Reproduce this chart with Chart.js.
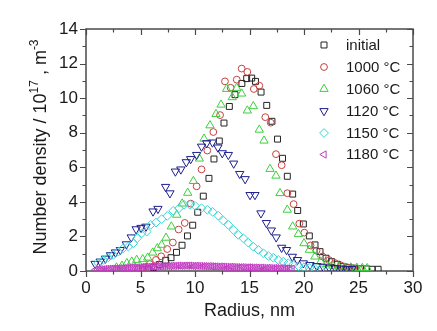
<!DOCTYPE html>
<html>
<head>
<meta charset="utf-8">
<script src="https://cdn.jsdelivr.net/npm/chart.js@4.4.1/dist/chart.umd.min.js"></script>
<style>
  html, body { margin: 0; padding: 0; background: #fff; }
  #wrap { width: 437px; height: 331px; }
</style>
</head>
<body>
<div id="wrap"><canvas id="c" width="437" height="331"></canvas></div>
<script>
// Particle size distributions: radius (nm) vs number density (10^17 m^-3)
const radiusInitial = [5.2, 5.7, 6.2, 6.72, 7.31, 7.8, 8.3, 8.81, 9.31, 9.79, 10.25, 10.76, 11.28, 11.74, 12.23, 12.66, 13.15, 13.67, 14.3, 14.74, 15.2, 15.55, 16.06, 16.58, 17.06, 17.57, 18.03, 18.47, 18.96, 19.42, 19.94, 20.49, 21.01, 21.47, 22.02, 22.54, 23.06, 23.61, 24.13, 24.68, 25.2, 25.75, 26.25, 26.8];
const densityInitial = [0.08, 0.12, 0.2, 0.37, 0.62, 0.77, 1.08, 1.49, 2.03, 2.65, 3.4, 4.33, 5.36, 6.48, 7.52, 8.56, 9.52, 10.2, 10.85, 11.13, 11.16, 10.97, 10.35, 9.58, 8.66, 7.63, 6.52, 5.48, 4.45, 3.5, 2.72, 2.03, 1.51, 1.12, 0.74, 0.54, 0.39, 0.25, 0.19, 0.16, 0.13, 0.12, 0.1, 0.1];

const radius1000 = [4.8, 5.3, 5.85, 6.42, 6.9, 7.45, 7.97, 8.5, 9.06, 9.6, 10.15, 10.6, 11.13, 11.68, 12.3, 12.75, 13.27, 13.83, 14.28, 14.8, 15.4, 15.9, 16.45, 16.95, 17.43, 17.95, 18.47, 19.05, 19.57, 20.03, 20.6, 21.15, 21.7, 22.3, 22.85, 23.4, 23.95, 24.5, 25.05];
const density1000 = [0.12, 0.22, 0.4, 0.64, 0.85, 1.27, 1.65, 2.4, 2.78, 3.9, 4.9, 5.88, 6.97, 8.04, 9.02, 10.97, 10.6, 11.07, 11.71, 11.52, 10.53, 10.72, 8.9, 8.58, 6.76, 6.12, 4.5, 3.87, 2.74, 2.22, 1.48, 1.18, 0.84, 0.63, 0.46, 0.32, 0.22, 0.16, 0.12];

const radius1060 = [2.8, 3.3, 3.75, 4.2, 4.65, 5.2, 5.66, 6.12, 6.54, 6.94, 7.34, 7.83, 8.32, 8.82, 9.33, 9.85, 10.4, 10.83, 11.38, 11.93, 12.39, 12.9, 13.42, 13.82, 14.28, 14.8, 15.35, 15.9, 16.33, 16.88, 17.43, 17.8, 18.47, 18.96, 19.48, 20.0, 20.49, 21.0, 21.53, 22.08, 22.65, 23.2, 23.75, 24.3, 24.85, 25.35, 25.8];
const density1060 = [0.2, 0.3, 0.45, 0.54, 0.64, 0.68, 0.77, 1.06, 1.31, 1.51, 1.92, 2.57, 3.25, 3.9, 4.52, 5.2, 6.5, 7.65, 8.42, 9.08, 9.62, 10.53, 10.05, 10.59, 10.26, 9.28, 9.53, 8.17, 7.54, 5.9, 5.51, 4.5, 3.54, 2.57, 2.14, 1.6, 1.22, 0.83, 0.54, 0.39, 0.3, 0.24, 0.2, 0.2, 0.18, 0.17, 0.16];

const radius1120 = [0.83, 1.3, 1.78, 2.25, 2.7, 3.15, 3.7, 4.15, 4.6, 5.05, 5.5, 6.15, 6.6, 7.3, 7.7, 8.2, 8.7, 9.2, 9.6, 10.15, 10.6, 11.07, 11.6, 12.1, 12.5, 13.06, 13.55, 14.1, 14.6, 15.05, 15.5, 16.05, 16.55, 17.0, 17.45, 17.95, 18.4, 18.93, 19.4, 19.94, 20.55, 21.17, 21.75, 22.3, 22.85, 23.4, 23.9, 24.4];
const density1120 = [0.42, 0.55, 0.72, 0.92, 1.08, 1.22, 1.55, 1.95, 2.42, 2.5, 2.57, 3.45, 3.6, 4.87, 4.5, 5.76, 5.88, 6.3, 6.48, 6.72, 7.2, 7.4, 7.44, 7.15, 6.82, 6.72, 6.22, 5.62, 5.32, 4.4, 4.4, 3.34, 2.78, 2.35, 1.95, 1.35, 1.22, 0.83, 0.64, 0.45, 0.35, 0.29, 0.25, 0.2, 0.18, 0.15, 0.13, 0.12];

const radius1150 = [1.13, 1.59, 2.05, 2.5, 2.97, 3.42, 3.88, 4.34, 4.7, 5.11, 5.57, 5.94, 6.42, 6.94, 7.46, 8.0, 8.53, 8.99, 9.54, 10.0, 10.6, 11.13, 11.62, 12.14, 12.6, 13.06, 13.52, 13.97, 14.43, 14.89, 15.35, 15.81, 16.27, 16.73, 17.18, 17.64, 18.1, 18.56, 19.0, 19.5, 20.0, 20.5, 21.0, 21.5];
const density1150 = [0.45, 0.64, 0.79, 0.93, 1.12, 1.31, 1.41, 1.6, 1.9, 2.18, 2.28, 2.67, 2.8, 3.0, 3.19, 3.48, 3.63, 3.83, 3.83, 3.77, 3.63, 3.54, 3.42, 3.2, 2.92, 2.67, 2.38, 2.09, 1.9, 1.64, 1.41, 1.22, 1.03, 0.87, 0.77, 0.64, 0.54, 0.45, 0.36, 0.28, 0.22, 0.17, 0.13, 0.1];

const radius1180 = [0.9, 1.1, 1.3, 1.5, 1.7, 1.9, 2.1, 2.3, 2.5, 2.7, 2.9, 3.1, 3.3, 3.5, 3.7, 3.9, 4.1, 4.3, 4.5, 4.7, 4.9, 5.1, 5.3, 5.5, 5.7, 5.9, 6.1, 6.3, 6.5, 6.7, 6.9, 7.1, 7.3, 7.5, 7.7, 7.9, 8.1, 8.3, 8.5, 8.7, 8.9, 9.1, 9.3, 9.5, 9.7, 9.9, 10.1, 10.3, 10.5, 10.7, 10.9, 11.1, 11.3, 11.5, 11.7, 11.9, 12.1, 12.3, 12.5, 12.7, 12.9, 13.1, 13.3, 13.5, 13.7, 13.9, 14.1, 14.3, 14.5, 14.7, 14.9, 15.1, 15.3, 15.5, 15.7, 15.9, 16.1, 16.3, 16.5, 16.7, 16.9, 17.1, 17.3, 17.5, 17.7, 17.9, 18.1, 18.3, 18.5, 18.7, 18.9];
const density1180 = [0.08, 0.09, 0.1, 0.09, 0.11, 0.12, 0.12, 0.13, 0.14, 0.13, 0.15, 0.16, 0.16, 0.17, 0.18, 0.17, 0.19, 0.2, 0.2, 0.21, 0.22, 0.21, 0.23, 0.24, 0.24, 0.25, 0.26, 0.25, 0.27, 0.27, 0.26, 0.28, 0.28, 0.29, 0.28, 0.3, 0.29, 0.3, 0.31, 0.3, 0.3, 0.31, 0.3, 0.31, 0.3, 0.29, 0.3, 0.29, 0.29, 0.28, 0.28, 0.27, 0.28, 0.27, 0.26, 0.26, 0.25, 0.26, 0.25, 0.24, 0.24, 0.23, 0.24, 0.23, 0.22, 0.22, 0.21, 0.22, 0.21, 0.2, 0.21, 0.2, 0.19, 0.2, 0.19, 0.18, 0.19, 0.18, 0.17, 0.18, 0.17, 0.16, 0.17, 0.16, 0.15, 0.16, 0.15, 0.14, 0.15, 0.14, 0.13];

const seriesLabels = ['initial', '1000 °C', '1060 °C', '1120 °C', '1150 °C', '1180 °C'];
const xTickValues = [0, 5, 10, 15, 20, 25, 30];
const yTickValues = [0, 2, 4, 6, 8, 10, 12, 14];

const FONT = "'Liberation Sans', Arial, sans-serif";

function pairs(xs, ys) { return xs.map((x, i) => ({ x: x, y: ys[i] })); }

const styles = [
  { color: '#222222', pointStyle: 'rect',     radius: 4.2, rotation: 0 },
  { color: '#c4403f', pointStyle: 'circle',   radius: 3.4, rotation: 0 },
  { color: '#3ccf3c', pointStyle: 'triangle', radius: 4.8, rotation: 0 },
  { color: '#1e1e8e', pointStyle: 'triangle', radius: 4.8, rotation: 180 },
  { color: '#3ad6d6', pointStyle: 'rectRot',  radius: 4.4, rotation: 0 },
  { color: '#c23cc2', pointStyle: 'triangle', radius: 4.2, rotation: 270 }
];

const seriesData = [
  pairs(radiusInitial, densityInitial),
  pairs(radius1000, density1000),
  pairs(radius1060, density1060),
  pairs(radius1120, density1120),
  pairs(radius1150, density1150),
  pairs(radius1180, density1180)
];

const datasets = seriesData.map((d, i) => ({
  label: seriesLabels[i],
  data: d,
  showLine: false,
  pointStyle: styles[i].pointStyle,
  pointRadius: styles[i].radius,
  pointRotation: styles[i].rotation,
  pointBorderWidth: 1,
  borderColor: styles[i].color,
  backgroundColor: 'rgba(0,0,0,0)',
  pointBackgroundColor: 'rgba(0,0,0,0)',
  pointBorderColor: styles[i].color,
  order: seriesData.length - i
}));

// Frame with Origin-style ticks: outward on left/bottom, inward on top/right
const framePlugin = {
  id: 'frame',
  beforeDatasetsDraw(chart) {
    const ctx = chart.ctx, a = chart.chartArea;
    const xs = chart.scales.x, ys = chart.scales.y;
    ctx.save();
    ctx.strokeStyle = '#4a4a4a';
    ctx.lineWidth = 1.5;
    ctx.strokeRect(a.left, a.top, a.right - a.left, a.bottom - a.top);
    ctx.lineWidth = 1.2;
    ctx.beginPath();
    for (let v = 0; v <= 30.001; v += 2.5) {
      const px = Math.round(xs.getPixelForValue(v)) + 0.5;
      const len = (Math.abs(v % 5) < 0.01) ? 6 : 3.5;
      ctx.moveTo(px, a.bottom); ctx.lineTo(px, a.bottom + len);
      ctx.moveTo(px, a.top); ctx.lineTo(px, a.top + len);
    }
    for (let v = 0; v <= 14.001; v += 1) {
      const py = Math.round(ys.getPixelForValue(v)) + 0.5;
      const len = (v % 2 === 0) ? 6 : 3.5;
      ctx.moveTo(a.left, py); ctx.lineTo(a.left - len, py);
      ctx.moveTo(a.right, py); ctx.lineTo(a.right - len, py);
    }
    ctx.stroke();
    ctx.restore();
  },
  afterDraw(chart) {
    const ctx = chart.ctx, a = chart.chartArea;
    ctx.save();
    ctx.fillStyle = '#1a1a1a';
    // x title
    ctx.font = '18px ' + FONT;
    ctx.textAlign = 'center';
    ctx.textBaseline = 'middle';
    ctx.fillText('Radius, nm', (a.left + a.right) / 2, 311);
    // y title with superscripts
    const parts = [
      { t: 'Number density / 10', s: 18, dy: 0 },
      { t: '17', s: 12, dy: -8 },
      { t: ' , m', s: 18, dy: 0 },
      { t: '-3', s: 12, dy: -8 }
    ];
    let total = 0;
    parts.forEach(p => { ctx.font = p.s + 'px ' + FONT; p.w = ctx.measureText(p.t).width; total += p.w; });
    ctx.translate(39, (a.top + a.bottom) / 2 - 3);
    ctx.rotate(-Math.PI / 2);
    ctx.textAlign = 'left';
    ctx.textBaseline = 'alphabetic';
    let cx = -total / 2;
    parts.forEach(p => {
      ctx.font = p.s + 'px ' + FONT;
      ctx.fillText(p.t, cx, 6.5 + p.dy);
      cx += p.w;
    });
    ctx.restore();

    // legend inside the plot area
    ctx.save();
    const rowY = [45, 67, 89, 111, 133, 154.5];
    chart.data.datasets.forEach((ds, i) => {
      ctx.strokeStyle = styles[i].color;
      ctx.fillStyle = 'rgba(0,0,0,0)';
      ctx.lineWidth = 1;
      Chart.helpers.drawPoint(ctx, {
        pointStyle: styles[i].pointStyle,
        radius: styles[i].radius,
        rotation: styles[i].rotation,
        borderWidth: 1
      }, 324, rowY[i]);
      ctx.fillStyle = '#1a1a1a';
      ctx.font = '15px ' + FONT;
      ctx.textAlign = 'left';
      ctx.textBaseline = 'middle';
      ctx.fillText(ds.label, 346, rowY[i] + 0.5);
    });
    ctx.restore();
  }
};

new Chart(document.getElementById('c'), {
  type: 'scatter',
  data: { datasets: datasets },
  options: {
    responsive: false,
    maintainAspectRatio: false,
    devicePixelRatio: 1,
    animation: false,
    events: [],
    layout: { padding: { top: 29, right: 24, left: 0, bottom: 0 } },
    plugins: { legend: { display: false }, tooltip: { enabled: false } },
    scales: {
      x: {
        type: 'linear', min: 0, max: 30,
        afterFit(s) { s.height = 60; },
        afterBuildTicks(s) { s.ticks = xTickValues.map(v => ({ value: v })); },
        grid: { display: false, drawTicks: true, tickLength: 6 },
        border: { display: false },
        ticks: { color: '#1a1a1a', font: { family: FONT, size: 17 }, padding: 1, maxRotation: 0 }
      },
      y: {
        type: 'linear', min: 0, max: 14,
        afterFit(s) { s.width = 86; },
        afterBuildTicks(s) { s.ticks = yTickValues.map(v => ({ value: v })); },
        grid: { display: false, drawTicks: true, tickLength: 6 },
        border: { display: false },
        ticks: { color: '#1a1a1a', font: { family: FONT, size: 17 }, padding: 2 }
      }
    }
  },
  plugins: [framePlugin]
});
</script>
</body>
</html>
